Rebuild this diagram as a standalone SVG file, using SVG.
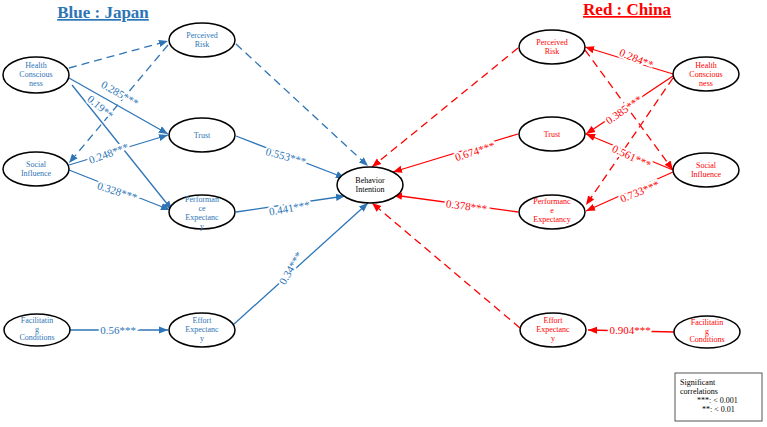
<svg xmlns="http://www.w3.org/2000/svg" width="767" height="427" viewBox="0 0 767 427">
<style>
.n{fill:#fff;stroke:#000;stroke-width:1.5}
.t{font-family:"Liberation Serif",serif;font-size:8px;text-anchor:middle}
.b{fill:#2e75b6}.r{fill:#ff0000}
.lb{stroke:#2e75b6;stroke-width:1.3;fill:none}
.lr{stroke:#ff0000;stroke-width:1.3;fill:none}
.d{stroke-dasharray:8,5}
.lab{font-family:"Liberation Serif",serif;font-size:11px;text-anchor:middle;stroke:#fff;stroke-width:4;paint-order:stroke}
.ttl{font-family:"Liberation Serif",serif;font-size:17px;font-weight:bold;text-anchor:middle;text-decoration:underline}
</style>
<defs>
<marker id="ab" viewBox="0 0 10 10" refX="10" refY="5" markerWidth="7" markerHeight="7" orient="auto"><path d="M0,1L10,5L0,9z" fill="#2e75b6"/></marker>
<marker id="ar" viewBox="0 0 10 10" refX="10" refY="5" markerWidth="7" markerHeight="7" orient="auto"><path d="M0,1L10,5L0,9z" fill="#ff0000"/></marker>
</defs>
<text class="ttl b" x="103" y="18">Blue : Japan</text>
<text class="ttl r" x="627" y="15">Red : China</text>
<g id="connectors">
<line class="lb d" x1="69" y1="68" x2="168" y2="41" marker-end="url(#ab)"/>
<line class="lb d" x1="236" y1="44" x2="368" y2="166" marker-end="url(#ab)"/>
<line class="lb" x1="69" y1="78" x2="168" y2="134" marker-end="url(#ab)"/>
<line class="lb" x1="72" y1="85" x2="172" y2="210" marker-end="url(#ab)"/>
<line class="lb d" x1="168" y1="45" x2="69" y2="163" marker-end="url(#ab)"/>
<line class="lb" x1="69" y1="165" x2="168" y2="135" marker-end="url(#ab)"/>
<line class="lb" x1="69" y1="170" x2="170" y2="210" marker-end="url(#ab)"/>
<line class="lb" x1="236" y1="136" x2="345" y2="178" marker-end="url(#ab)"/>
<line class="lb" x1="236" y1="212" x2="345" y2="196" marker-end="url(#ab)"/>
<line class="lb" x1="233" y1="325" x2="368" y2="203" marker-end="url(#ab)"/>
<line class="lb" x1="70" y1="330" x2="168" y2="330" marker-end="url(#ab)"/>
<line class="lr d" x1="518" y1="48" x2="372" y2="167" marker-end="url(#ar)"/>
<line class="lr" x1="518" y1="134" x2="393" y2="172" marker-end="url(#ar)"/>
<line class="lr" x1="518" y1="212" x2="393" y2="195" marker-end="url(#ar)"/>
<line class="lr d" x1="520" y1="328" x2="372" y2="203" marker-end="url(#ar)"/>
<line class="lr" x1="673" y1="74" x2="585" y2="47" marker-end="url(#ar)"/>
<line class="lr" x1="673" y1="76" x2="586" y2="134" marker-end="url(#ar)"/>
<line class="lr d" x1="673" y1="78" x2="586" y2="205" marker-end="url(#ar)"/>
<line class="lr d" x1="585" y1="50" x2="673" y2="170" marker-end="url(#ar)"/>
<line class="lr" x1="673" y1="170" x2="586" y2="134" marker-end="url(#ar)"/>
<line class="lr" x1="673" y1="172" x2="586" y2="211" marker-end="url(#ar)"/>
<line class="lr" x1="674" y1="332" x2="588" y2="330" marker-end="url(#ar)"/>
</g>
<g id="labels">
<text class="lab b" x="118" y="97" transform="rotate(30 118 97)">0.285***</text>
<text class="lab b" x="98" y="110" transform="rotate(40 98 110)">0.19**</text>
<text class="lab b" x="110" y="157" transform="rotate(-20 110 157)">0.248***</text>
<text class="lab b" x="116" y="195" transform="rotate(18 116 195)">0.328***</text>
<text class="lab b" x="285" y="160" transform="rotate(15 285 160)">0.553***</text>
<text class="lab b" x="290" y="212" transform="rotate(-10 290 212)">0.441***</text>
<text class="lab b" x="294" y="270" transform="rotate(-60 294 270)">0.34***</text>
<text class="lab b" x="118" y="334">0.56***</text>
<text class="lab r" x="476" y="155" transform="rotate(-18 476 155)">0.674***</text>
<text class="lab r" x="466" y="210" transform="rotate(8 466 210)">0.378***</text>
<text class="lab r" x="635" y="62" transform="rotate(22 635 62)">0.284**</text>
<text class="lab r" x="626" y="113" transform="rotate(-35 626 113)">0.385***</text>
<text class="lab r" x="630" y="160" transform="rotate(25 630 160)">0.561***</text>
<text class="lab r" x="641" y="195" transform="rotate(-22 641 195)">0.733***</text>
<text class="lab r" x="630" y="334">0.904***</text>
</g>
<g id="b-pr"><ellipse class="n" cx="202" cy="40" rx="33" ry="17"/><text class="t b" x="202" y="38">Perceived</text><text class="t b" x="202" y="47">Risk</text></g>
<g id="b-hc"><ellipse class="n" cx="36" cy="75" rx="33" ry="18"/><text class="t b" x="36" y="68">Health</text><text class="t b" x="36" y="77">Conscious</text><text class="t b" x="36" y="86">ness</text></g>
<g id="b-tr"><ellipse class="n" cx="202" cy="135" rx="33" ry="17"/><text class="t b" x="202" y="138">Trust</text></g>
<g id="b-si"><ellipse class="n" cx="36" cy="169" rx="33" ry="17"/><text class="t b" x="36" y="167">Social</text><text class="t b" x="36" y="176">Influence</text></g>
<g id="b-pe"><ellipse class="n" cx="202" cy="212" rx="33" ry="17"/><text class="t b" x="202" y="202">Performan</text><text class="t b" x="202" y="211">ce</text><text class="t b" x="202" y="220">Expectanc</text><text class="t b" x="202" y="229">y</text></g>
<g id="b-fc"><ellipse class="n" cx="37" cy="330" rx="33" ry="16"/><text class="t b" x="37" y="323">Facilitatin</text><text class="t b" x="37" y="332">g</text><text class="t b" x="37" y="340">Conditions</text></g>
<g id="b-ee"><ellipse class="n" cx="202" cy="330" rx="33" ry="17"/><text class="t b" x="202" y="323">Effort</text><text class="t b" x="202" y="332">Expectanc</text><text class="t b" x="202" y="341">y</text></g>
<g id="bi"><ellipse class="n" cx="370" cy="185" rx="33" ry="18"/><text class="t" x="370" y="183" fill="#000">Behavior</text><text class="t" x="370" y="192" fill="#000">Intention</text></g>
<g id="r-pr"><ellipse class="n" cx="552" cy="47" rx="33" ry="17"/><text class="t r" x="552" y="45">Perceived</text><text class="t r" x="552" y="54">Risk</text></g>
<g id="r-hc"><ellipse class="n" cx="706" cy="74" rx="33" ry="17"/><text class="t r" x="706" y="68">Health</text><text class="t r" x="706" y="77">Conscious</text><text class="t r" x="706" y="86">ness</text></g>
<g id="r-tr"><ellipse class="n" cx="552" cy="134" rx="33" ry="17"/><text class="t r" x="552" y="137">Trust</text></g>
<g id="r-si"><ellipse class="n" cx="706" cy="170" rx="33" ry="17"/><text class="t r" x="706" y="168">Social</text><text class="t r" x="706" y="177">Influence</text></g>
<g id="r-pe"><ellipse class="n" cx="552" cy="212" rx="33" ry="17"/><text class="t r" x="552" y="204">Performanc</text><text class="t r" x="552" y="213">e</text><text class="t r" x="552" y="222">Expectancy</text></g>
<g id="r-ee"><ellipse class="n" cx="553" cy="330" rx="33" ry="17"/><text class="t r" x="553" y="323">Effort</text><text class="t r" x="553" y="332">Expectanc</text><text class="t r" x="553" y="341">y</text></g>
<g id="r-fc"><ellipse class="n" cx="707" cy="332" rx="33" ry="16"/><text class="t r" x="707" y="325">Facilitatin</text><text class="t r" x="707" y="334">g</text><text class="t r" x="707" y="342">Conditions</text></g>
<g id="legend"><rect x="675" y="373" width="87" height="48" fill="#fff" stroke="#555"/>
<text font-family="Liberation Serif,serif" font-size="8" x="680" y="385">Significant</text>
<text font-family="Liberation Serif,serif" font-size="8" x="680" y="394">correlations</text>
<text font-family="Liberation Serif,serif" font-size="8" x="697" y="403">***: &lt; 0.001</text>
<text font-family="Liberation Serif,serif" font-size="8" x="702" y="412">**:  &lt; 0.01</text></g>
</svg>
